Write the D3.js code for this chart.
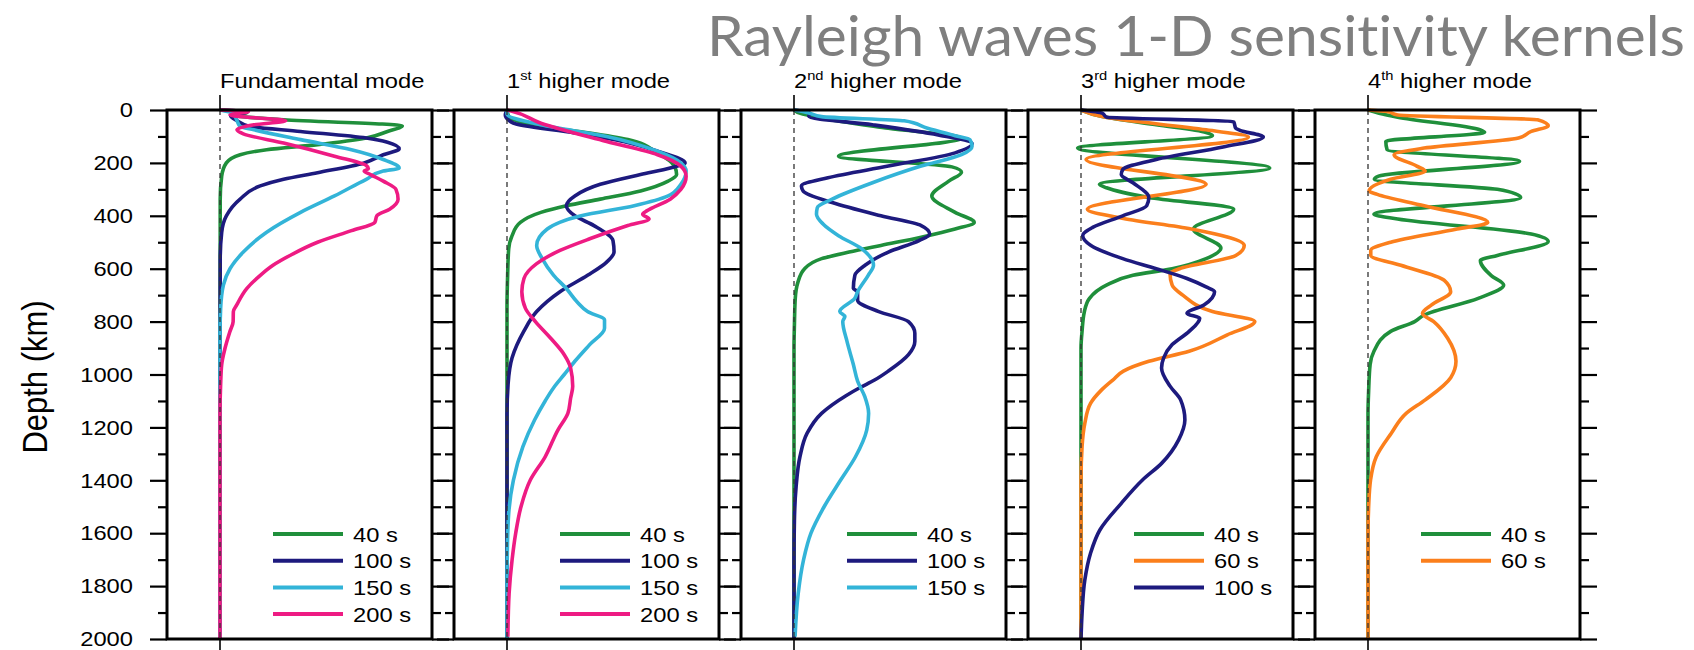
<!DOCTYPE html>
<html>
<head>
<meta charset="utf-8">
<script src="https://cdn.jsdelivr.net/npm/d3@7"></script>
<style>
  html, body { margin: 0; padding: 0; background: #fff; }
  svg { display: block; }
  text { font-variant-ligatures: none; }
</style>
</head>
<body>
<svg id="chart" width="1694" height="650"></svg>
<script>
// ---- axis ticks ----
const majorTicks = d3.range(0, 2001, 200);
const minorTicks = d3.range(100, 2000, 200);
const depthDomain = [0, 2000];
const ampDomain = [-0.25, 1.0];

// ---- kernels: [depth km, normalised sensitivity] ----
// fundamental mode
const fund40  = [[0,0],[10,0.126],[19,0.06],[37,0.30],[60,0.86],[81,0.79],[106,0.69],[131,0.46],[150,0.22],[169,0.095],[200,0.03],[250,0.008],[337,0.001],[2000,0]];
const fund100 = [[0,0],[6,0.13],[22,0.05],[40,0.08],[62,0.14],[81,0.38],[106,0.69],[122,0.79],[147,0.845],[169,0.77],[200,0.68],[237,0.46],[262,0.30],[287,0.19],[337,0.095],[400,0.03],[462,0.008],[562,0.001],[2000,0]];
const fund150 = [[0,0],[12,0.06],[40,0.08],[62,0.095],[75,0.16],[112,0.38],[150,0.62],[187,0.77],[219,0.845],[231,0.77],[262,0.69],[325,0.54],[387,0.38],[462,0.22],[537,0.11],[600,0.047],[662,0.016],[750,0.003],[850,0],[2000,0]];
const fund200 = [[0,0],[6,0.134],[19,0.047],[41,0.31],[56,0.16],[75,0.08],[90,0.11],[125,0.30],[175,0.54],[210,0.69],[222,0.70],[231,0.68],[244,0.71],[269,0.77],[300,0.83],[337,0.84],[375,0.80],[400,0.74],[425,0.73],[456,0.62],[500,0.46],[550,0.33],[587,0.25],[625,0.19],[675,0.126],[737,0.079],[762,0.063],[800,0.062],[837,0.047],[900,0.024],[962,0.008],[1037,0.003],[1150,0],[2000,0]];

// 1st higher mode
const first40  = [[0,0],[25,0.008],[62,0.16],[87,0.39],[112,0.57],[162,0.71],[212,0.79],[244,0.80],[269,0.76],[306,0.63],[337,0.44],[362,0.28],[387,0.16],[425,0.063],[475,0.024],[525,0.008],[625,0.003],[750,0],[2000,0]];
const first100 = [[0,0],[19,-0.008],[50,0.03],[87,0.32],[119,0.55],[156,0.71],[200,0.84],[219,0.77],[244,0.63],[281,0.44],[325,0.32],[362,0.28],[400,0.32],[437,0.41],[494,0.50],[537,0.505],[575,0.47],[625,0.38],[687,0.25],[762,0.14],[837,0.079],[937,0.024],[1037,0.005],[1150,0],[2000,0]];
const first150 = [[0,0],[15,0],[56,0.16],[100,0.47],[156,0.71],[200,0.82],[231,0.845],[281,0.82],[325,0.76],[362,0.60],[400,0.35],[450,0.19],[512,0.14],[562,0.166],[625,0.22],[675,0.28],[725,0.33],[762,0.38],[794,0.46],[825,0.46],[887,0.39],[950,0.32],[1000,0.27],[1050,0.22],[1100,0.18],[1172,0.13],[1273,0.075],[1400,0.03],[1525,0.008],[1650,0.002],[1800,0],[2000,0]];
const first200 = [[0,0],[3,0.016],[50,0.16],[119,0.47],[169,0.71],[212,0.82],[250,0.845],[300,0.82],[337,0.77],[381,0.66],[394,0.64],[412,0.67],[437,0.57],[487,0.39],[531,0.25],[581,0.14],[637,0.08],[687,0.07],[750,0.087],[800,0.134],[862,0.205],[925,0.27],[975,0.30],[1044,0.31],[1090,0.30],[1147,0.287],[1210,0.24],[1311,0.18],[1399,0.11],[1500,0.066],[1600,0.041],[1701,0.024],[1827,0.01],[1991,0.004]];

// 2nd higher mode
const second40  = [[0,0],[12,0.027],[31,0.13],[69,0.445],[106,0.79],[175,0.21],[215,0.745],[235,0.79],[269,0.73],[325,0.65],[387,0.76],[425,0.85],[450,0.76],[481,0.60],[512,0.41],[537,0.26],[562,0.13],[600,0.05],[650,0.019],[712,0.006],[812,0.002],[900,0],[2000,0]];
const second100 = [[0,0],[12,0.074],[25,0.07],[56,0.37],[94,0.68],[127,0.84],[162,0.76],[212,0.445],[256,0.16],[287,0.035],[306,0.043],[350,0.18],[400,0.41],[437,0.60],[469,0.64],[494,0.59],[537,0.445],[587,0.335],[625,0.287],[675,0.28],[687,0.30],[719,0.30],[762,0.40],[800,0.54],[844,0.57],[875,0.57],[925,0.54],[987,0.445],[1021,0.38],[1050,0.31],[1080,0.245],[1147,0.13],[1222,0.062],[1311,0.028],[1424,0.01],[1550,0.002],[1700,0],[2000,0]];
const second150 = [[0,0],[10,0.066],[25,0.13],[41,0.52],[69,0.63],[97,0.76],[112,0.83],[137,0.84],[169,0.79],[212,0.60],[275,0.37],[337,0.18],[369,0.11],[394,0.106],[431,0.137],[475,0.21],[525,0.32],[587,0.375],[625,0.35],[687,0.30],[712,0.287],[762,0.216],[781,0.24],[800,0.23],[875,0.25],[962,0.28],[1025,0.30],[1084,0.334],[1147,0.352],[1210,0.343],[1311,0.29],[1399,0.22],[1500,0.142],[1600,0.08],[1701,0.045],[1827,0.02],[1991,0.005]];

// 3rd higher mode
const third40  = [[0,0],[25,0.10],[56,0.355],[85,0.59],[97,0.62],[144,-0.016],[219,0.89],[281,0.087],[294,0.12],[331,0.32],[375,0.72],[450,0.53],[522,0.66],[562,0.59],[600,0.43],[625,0.245],[662,0.12],[712,0.04],[762,0.016],[837,0.005],[900,0],[2000,0]];
const third60  = [[0,0],[25,0.10],[75,0.59],[102,0.79],[187,0.024],[281,0.59],[375,0.03],[410,0.2],[450,0.52],[512,0.77],[550,0.73],[600,0.465],[619,0.42],[662,0.43],[700,0.48],[762,0.62],[800,0.82],[850,0.69],[912,0.51],[950,0.32],[987,0.2],[1021,0.15],[1060,0.095],[1109,0.045],[1185,0.018],[1273,0.005],[1400,0],[2000,0]];
const third100 = [[0,0],[12,0.10],[27,0.12],[44,0.72],[69,0.73],[77,0.75],[102,0.86],[140,0.67],[187,0.355],[225,0.197],[244,0.19],[275,0.245],[331,0.32],[362,0.31],[400,0.197],[444,0.055],[475,0.008],[512,0.047],[562,0.197],[600,0.355],[637,0.50],[669,0.59],[687,0.63],[737,0.58],[769,0.50],[787,0.56],[837,0.51],[887,0.43],[937,0.39],[975,0.38],[1044,0.42],[1096,0.47],[1172,0.49],[1248,0.46],[1336,0.38],[1399,0.29],[1487,0.19],[1588,0.089],[1676,0.045],[1777,0.018],[1903,0.005],[2000,0]];

// 4th higher mode
const fourth40 = [[0,0],[12,0.052],[27,0.14],[75,0.53],[84,0.55],[119,0.084],[150,0.09],[194,0.715],[250,0.05],[262,0.03],[300,0.61],[331,0.72],[394,0.028],[412,0.14],[469,0.77],[497,0.85],[550,0.61],[569,0.53],[625,0.58],[662,0.64],[712,0.52],[775,0.265],[800,0.22],[837,0.107],[912,0.028],[962,0.01],[1062,0.003],[1150,0],[2000,0]];
const fourth60 = [[0,0],[6,0.09],[19,0.14],[37,0.80],[60,0.85],[81,0.77],[106,0.71],[144,0.265],[169,0.123],[212,0.23],[231,0.27],[262,0.107],[306,0.005],[319,0.044],[362,0.265],[425,0.565],[450,0.42],[500,0.107],[531,0.013],[550,0.013],[587,0.155],[644,0.36],[687,0.39],[737,0.30],[769,0.257],[800,0.31],[862,0.375],[950,0.415],[1012,0.39],[1096,0.27],[1147,0.18],[1222,0.11],[1311,0.039],[1399,0.012],[1500,0.003],[1600,0],[2000,0]];

// ---- labels ----
const chartTitle = "Rayleigh waves 1-D sensitivity kernels";
const axisTitle = "Depth (km)";
const modeLead = ["Fundamental mode", "1", "2", "3", "4"];
const modeSup  = ["", "st", "nd", "rd", "th"];
const modeTail = ["", " higher mode", " higher mode", " higher mode", " higher mode"];

const periodColor = {
  "40 s":  "#1f8f3b",
  "60 s":  "#fb7f1c",
  "100 s": "#1d1a7e",
  "150 s": "#33b4d8",
  "200 s": "#ee1b83"
};

const panelSeries = [
  [["40 s", fund40], ["100 s", fund100], ["150 s", fund150], ["200 s", fund200]],
  [["40 s", first40], ["100 s", first100], ["150 s", first150], ["200 s", first200]],
  [["40 s", second40], ["100 s", second100], ["150 s", second150]],
  [["40 s", third40], ["60 s", third60], ["100 s", third100]],
  [["40 s", fourth40], ["60 s", fourth60]]
];

// ---- layout ----
const svg = d3.select("#chart");
const plotTop = 110, plotBottom = 639;
const firstLeft = 167, pitch = 287, panelW = 265;
const majorLen = 17, minorLen = 9;
const stretch = 1.13;      // the figure text is slightly wide
const sans = "'Liberation Sans', Arial, Helvetica, sans-serif";

const y = d3.scaleLinear().domain(depthDomain).range([plotTop, plotBottom]);

svg.append("rect").attr("width", 1694).attr("height", 650).attr("fill", "#fff");

panelSeries.forEach((series, i) => {
  const left = firstLeft + i * pitch;
  const x = d3.scaleLinear().domain(ampDomain).range([left, left + panelW]);
  const g = svg.append("g").attr("class", "panel");
  const right = left + panelW;

  // outer ticks on both sides
  const sides = [
    [d3.axisLeft, left], [d3.axisRight, right]
  ];
  sides.forEach(([axisFn, xpos]) => {
    const major = g.append("g").attr("transform", `translate(${xpos},0)`)
      .call(axisFn(y).tickValues(majorTicks).tickSize(majorLen).tickPadding(17).tickFormat(d3.format("d")));
    const minor = g.append("g").attr("transform", `translate(${xpos},0)`)
      .call(axisFn(y).tickValues(minorTicks).tickSize(minorLen).tickFormat(""));
    [major, minor].forEach(a => {
      a.select(".domain").remove();
      a.selectAll(".tick line").attr("stroke", "#000").attr("stroke-width", 2.2);
    });
    if (i === 0 && axisFn === d3.axisLeft) {
      major.selectAll(".tick text")
        .attr("x", null)
        .attr("transform", `translate(${-majorLen - 17},0) scale(${stretch},1)`)
        .attr("font-family", sans).attr("font-size", 21).attr("fill", "#000");
    } else {
      major.selectAll(".tick text").remove();
    }
  });

  // kernels
  const line = d3.line()
    .x(d => x(d[1]))
    .y(d => y(d[0]))
    .curve(d3.curveMonotoneY);
  g.selectAll("path.kernel")
    .data(series)
    .join("path")
    .attr("class", "kernel")
    .attr("d", d => line(d[1]))
    .attr("fill", "none")
    .attr("stroke", d => periodColor[d[0]])
    .attr("stroke-width", 3.6)
    .attr("stroke-linejoin", "round");

  // zero reference line
  const x0 = x(0);
  g.append("line").attr("x1", x0).attr("x2", x0).attr("y1", y(0)).attr("y2", y(2000))
    .attr("stroke", "#333").attr("stroke-width", 1.3).attr("stroke-dasharray", "5,4");
  g.append("line").attr("x1", x0).attr("x2", x0).attr("y1", y(0) - 15).attr("y2", y(0))
    .attr("stroke", "#000").attr("stroke-width", 1.6);
  g.append("line").attr("x1", x0).attr("x2", x0).attr("y1", y(2000)).attr("y2", y(2000) + 14)
    .attr("stroke", "#000").attr("stroke-width", 1.6);

  // frame
  g.append("rect")
    .attr("x", left).attr("y", plotTop)
    .attr("width", panelW).attr("height", plotBottom - plotTop)
    .attr("fill", "none").attr("stroke", "#000").attr("stroke-width", 3);

  // panel heading
  const head = g.append("text")
    .attr("transform", `translate(${x0},88) scale(${stretch},1)`)
    .attr("font-family", sans).attr("font-size", 21).attr("fill", "#000");
  head.append("tspan").text(modeLead[i]);
  if (modeSup[i]) {
    head.append("tspan").attr("font-size", 13).attr("dy", -8).text(modeSup[i]);
    head.append("tspan").attr("dy", 8).text(modeTail[i]);
  }

  // legend
  const lg = g.append("g");
  series.forEach((s, k) => {
    const ly = 534 + k * 26.7;
    lg.append("line")
      .attr("x1", left + 106).attr("x2", left + 176)
      .attr("y1", ly).attr("y2", ly)
      .attr("stroke", periodColor[s[0]]).attr("stroke-width", 4);
    lg.append("text")
      .attr("transform", `translate(${left + 186},${ly}) scale(${stretch},1)`)
      .attr("dy", "0.36em")
      .attr("font-family", sans).attr("font-size", 21).attr("fill", "#000")
      .text(s[0]);
  });
});

// depth axis title
svg.append("text")
  .attr("transform", `translate(34.5,377) scale(${stretch},1) rotate(-90)`)
  .attr("text-anchor", "middle").attr("dy", "0.35em")
  .attr("font-family", sans).attr("font-size", 31).attr("fill", "#000")
  .text(axisTitle);

// slide heading
svg.append("text")
  .attr("x", 1685).attr("y", 56)
  .attr("text-anchor", "end")
  .attr("font-family", "Lato, 'Open Sans', sans-serif")
  .attr("font-size", 57)
  .attr("textLength", 978)
  .attr("lengthAdjust", "spacingAndGlyphs")
  .attr("fill", "#7f7f7f")
  .text(chartTitle);
</script>
</body>
</html>
